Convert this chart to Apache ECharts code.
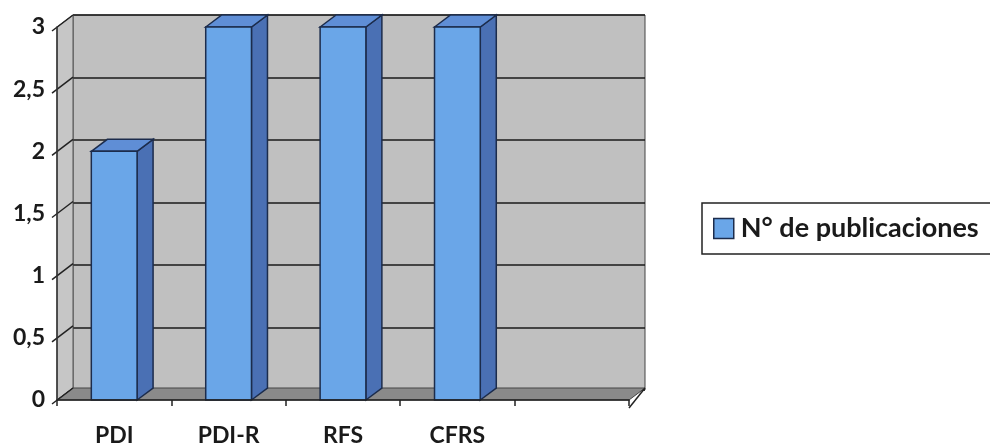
<!DOCTYPE html>
<html>
<head>
<meta charset="utf-8">
<script src="https://cdn.jsdelivr.net/npm/echarts@6/dist/echarts.min.js"></script>
<style>
  html, body { margin: 0; padding: 0; background: #ffffff; }
  #chart { width: 990px; height: 447px; }
</style>
</head>
<body>
<div id="chart"></div>
<script>
// Publicaciones por instrumento
const categories = ['PDI', 'PDI-R', 'RFS', 'CFRS', ''];
const seriesName = 'N° de publicaciones';
const publicaciones = [2, 3, 3, 3];
const yTicks = [0, 0.5, 1, 1.5, 2, 2.5, 3];

// depth of the pseudo-3D box (pixels)
const DX = 16, DY = -12;
const FONT = 'Lato, "Open Sans", sans-serif';

const chart = echarts.init(document.getElementById('chart'));

function fmt(v) { return String(v).replace('.', ','); }

// walls, floor and slanted grid lines on the side wall
function renderWalls(params, api) {
  const cs = params.coordSys;
  const x0 = cs.x, x1 = cs.x + cs.width;
  const y0 = api.coord([0, 0])[1];
  const yTop = api.coord([0, yTicks[yTicks.length - 1]])[1];
  const children = [];
  children.push({
    type: 'polygon',
    shape: { points: [[x0, yTop], [x0 + DX, yTop + DY], [x0 + DX, y0 + DY], [x0, y0]] },
    style: { fill: '#c6c6c6', stroke: '#555', lineWidth: 1 }
  });
  children.push({
    type: 'polygon',
    shape: { points: [[x0, y0], [x0 + DX, y0 + DY], [x1 + DX, y0 + DY], [x1, y0]] },
    style: { fill: '#8a8a8a', stroke: '#444', lineWidth: 1 }
  });
  yTicks.forEach(function (t) {
    const y = api.coord([0, t])[1];
    children.push({
      type: 'line',
      shape: { x1: x0 - 5, y1: y + 4, x2: x0 + DX, y2: y + DY },
      style: { stroke: '#222', lineWidth: 1.5 }
    });
  });
  // slanted front-right edge of the floor
  children.push({
    type: 'line',
    shape: { x1: x1, y1: y0 + 8, x2: x1 + DX, y2: y0 + DY },
    style: { stroke: '#222', lineWidth: 1.5 }
  });
  return { type: 'group', children: children };
}

function renderBar(params, api) {
  const c = api.value(0), v = api.value(1);
  const base = api.coord([c, 0]);
  const top = api.coord([c, v]);
  const band = api.size([1, 0])[0];
  const w = band * 0.4;
  const xl = base[0] - w / 2, xr = base[0] + w / 2;
  const yb = base[1], yt = top[1];
  const edge = '#1c2c4c';
  return {
    type: 'group',
    children: [
      {
        type: 'polygon',
        shape: { points: [[xr, yb], [xr + DX, yb + DY], [xr + DX, yt + DY], [xr, yt]] },
        style: { fill: '#4a70b4', stroke: edge, lineWidth: 1.5 }
      },
      {
        type: 'polygon',
        shape: { points: [[xl, yt], [xl + DX, yt + DY], [xr + DX, yt + DY], [xr, yt]] },
        style: { fill: '#5f8ed6', stroke: edge, lineWidth: 1.5 }
      },
      {
        type: 'rect',
        shape: { x: xl, y: yt, width: w, height: yb - yt },
        style: { fill: '#6aa6e8', stroke: edge, lineWidth: 1.5 }
      }
    ]
  };
}

const option = {
  backgroundColor: '#ffffff',
  animation: false,
  legend: {
    data: [{ name: seriesName, icon: 'rect' }],
    left: 702,
    top: 203,
    orient: 'vertical',
    backgroundColor: '#ffffff',
    borderColor: '#222',
    borderWidth: 1.5,
    borderRadius: 0,
    padding: [12, 80, 12, 11],
    itemWidth: 20,
    itemHeight: 20,
    itemGap: 0,
    itemStyle: { borderColor: '#1c2c4c', borderWidth: 1.5 },
    textStyle: { fontFamily: FONT, fontWeight: 'bold', fontSize: 27, color: '#1a1a1a', padding: [0, 0, 0, 2] }
  },
  grid: [
    { left: 57, right: 361, top: 27, bottom: 46, containLabel: false },
    { left: 73, right: 345, top: 15, bottom: 57, containLabel: false,
      show: true, backgroundColor: '#c0c0c0', borderColor: '#444', borderWidth: 1, z: 0 }
  ],
  xAxis: [
    {
      type: 'category', gridIndex: 0, data: categories,
      axisLine: { lineStyle: { color: '#222', width: 1.5 } },
      axisTick: { show: true, length: 6, lineStyle: { color: '#222', width: 1.5 } },
      axisLabel: { margin: 24, fontFamily: FONT, fontWeight: 'bold', fontSize: 23, color: '#1a1a1a' },
      z: 5
    },
    { type: 'category', gridIndex: 1, data: categories, show: false }
  ],
  yAxis: [
    {
      type: 'value', gridIndex: 0, min: 0, max: 3, interval: 0.5,
      axisLine: { show: true, lineStyle: { color: '#333', width: 1.5 } },
      axisTick: { show: false },
      splitLine: { show: false },
      axisLabel: { margin: 12, formatter: fmt, fontFamily: FONT, fontWeight: 'bold', fontSize: 23, color: '#1a1a1a' },
      z: 5
    },
    {
      type: 'value', gridIndex: 1, min: 0, max: 3, interval: 0.5,
      axisLine: { show: false }, axisTick: { show: false }, axisLabel: { show: false },
      splitLine: { show: true, lineStyle: { color: '#1a1a1a', width: 1.5 } }
    }
  ],
  series: [
    {
      type: 'custom', name: 'walls', xAxisIndex: 0, yAxisIndex: 0,
      data: [[0, 0]], renderItem: renderWalls, silent: true, z: 1
    },
    {
      type: 'custom', name: seriesName, xAxisIndex: 0, yAxisIndex: 0,
      itemStyle: { color: '#6aa6e8' },
      data: publicaciones.map(function (v, i) { return [i, v]; }),
      encode: { x: 0, y: 1 },
      renderItem: renderBar, z: 3
    }
  ]
};

chart.setOption(option);
</script>
</body>
</html>
